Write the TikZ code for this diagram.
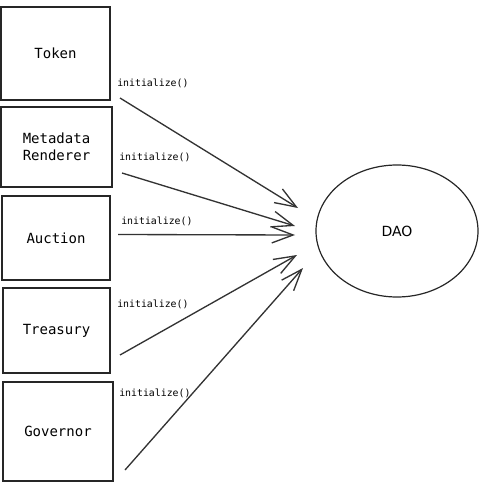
\documentclass[tikz,border=0pt]{standalone}
\usepackage{fontspec}
\setmonofont{DejaVu Sans Mono}
\newfontfamily\handfont{DejaVu Sans}
\usetikzlibrary{arrows.meta,shapes.geometric}

\tikzset{
  blockbox/.style={draw=black!85, line width=1pt, inner sep=0.75pt, align=center,
    font=\ttfamily\fontsize{10.5}{12.5}\selectfont},
  daocircle/.style={draw=black!85, line width=0.9pt, ellipse, inner sep=0pt,
    font=\handfont\fontsize{10.5}{12}\selectfont},
  calllabel/.style={anchor=west, inner sep=0.75pt, font=\ttfamily\fontsize{7.4}{9}\selectfont},
  flow/.style={draw=black!80, line width=1pt,
    -{Straight Barb[length=16pt, width=12pt, line width=1pt]}}
}

\begin{document}
\begin{tikzpicture}[x=0.75pt,y=0.75pt,yscale=-1,xscale=1]
\useasboundingbox (0,0) rectangle (479,488);

% Block Nodes
\node [blockbox, minimum width=81.75pt, minimum height=69.75pt] (token) at (55.5,53.5) {Token};
\node [blockbox, minimum width=83.25pt, minimum height=60pt] (renderer) at (56.5,147) {Metadata\\Renderer};
\node [blockbox, minimum width=81pt, minimum height=63pt] (auction) at (56,238) {Auction};
\node [blockbox, minimum width=80.25pt, minimum height=63.75pt] (treasury) at (56.5,330.5) {Treasury};
\node [blockbox, minimum width=82.5pt, minimum height=74.25pt] (governor) at (58,431.5) {Governor};

% Ellipse Node
\node [daocircle, minimum width=121.5pt, minimum height=99pt] (dao) at (397,231) {DAO};

% Arrow ends
\coordinate (tokenout) at (120,98);
\coordinate (rendererout) at (122,173);
\coordinate (auctionout) at (118,234.5);
\coordinate (treasuryout) at (120,355);
\coordinate (governorout) at (125,470);
\coordinate (daoinA) at (298,208);
\coordinate (daoinB) at (295,226);
\coordinate (daoinC) at (295,235);
\coordinate (daoinD) at (297,255);
\coordinate (daoinE) at (303,268);

%Straight Lines
\draw [flow] (tokenout) -- (daoinA);
\draw [flow] (rendererout) -- (daoinB);
\draw [flow] (auctionout) -- (daoinC);
\draw [flow] (treasuryout) -- (daoinD);
\draw [flow] (governorout) -- (daoinE);

% Text Node
\node [calllabel] (tokencall) at (116,83) {initialize()};
% Text Node
\node [calllabel] (renderercall) at (118,157) {initialize()};
% Text Node
\node [calllabel] (auctioncall) at (120,221) {initialize()};
% Text Node
\node [calllabel] (treasurycall) at (116,304) {initialize()};
% Text Node
\node [calllabel] (governorcall) at (118,393) {initialize()};

\end{tikzpicture}
\end{document}
